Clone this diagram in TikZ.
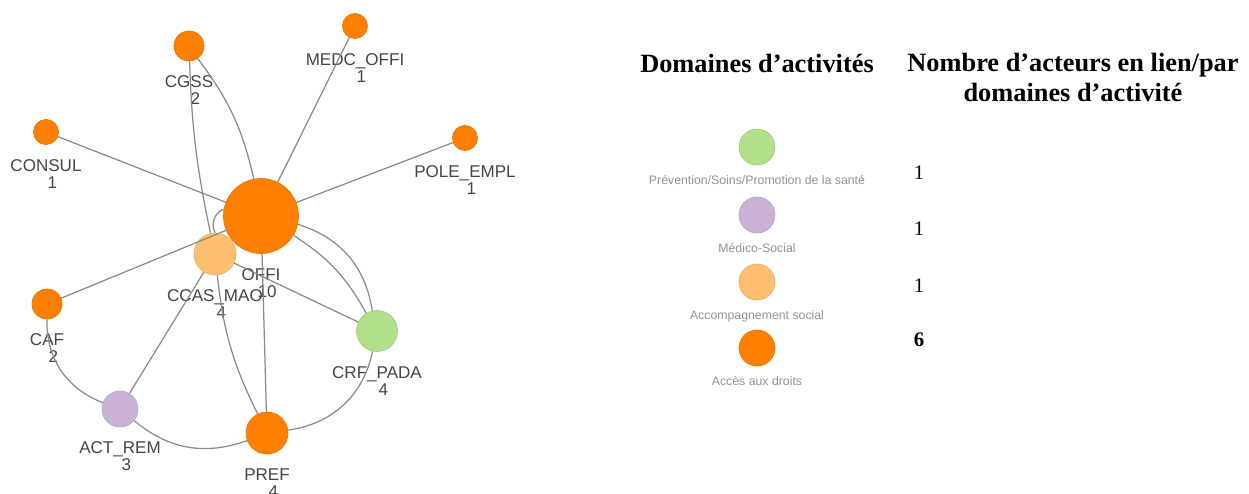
\documentclass[tikz,border=0pt]{standalone}
\usepackage{fontspec}
\setmainfont{Liberation Serif}
\newfontfamily\grapheFont{Liberation Sans}
\usetikzlibrary{positioning}

\definecolor{acces}{HTML}{FF7F00}
\definecolor{accomp}{HTML}{FDBF6F}
\definecolor{medico}{HTML}{CAB2D6}
\definecolor{prevention}{HTML}{B2DF8A}
\definecolor{trait}{HTML}{8A8A8A}
\definecolor{texte}{HTML}{454545}

\tikzset{
  acteur/.style={circle, inner sep=0pt, minimum size=#1, line width=0.4pt},
  lien/.style={draw=trait, line width=0.7pt},
  nomacteur/.style={font=\grapheFont\fontsize{9.7}{9.7}\selectfont, text=texte, align=center, inner sep=0pt},
  legende/.style={font=\grapheFont\fontsize{7}{8}\selectfont, text=gray!85, inner sep=0pt},
  titre/.style={font=\bfseries\fontsize{15}{17}\selectfont, align=center, inner sep=0pt},
  nombre/.style={font=\fontsize{11.8}{13}\selectfont, inner sep=0pt}
}

\begin{document}
\begin{tikzpicture}[x=0.02cm, y=-0.02cm]
\useasboundingbox (0,0) rectangle (1249,494);

% acteurs du reseau
\foreach \nm/\x/\y/\d/\col/\txt/\nb in {
  offi/261/216/1.5/acces/OFFI/10,
  cgss/189/46/0.6/acces/CGSS/2,
  medc/355/26/0.5/acces/MEDC\_OFFI/1,
  consul/46/132/0.5/acces/CONSUL/1,
  pole/465/138/0.5/acces/POLE\_EMPL/1,
  ccas/215/254/0.84/accomp/CCAS\_MAO/4,
  caf/47/304/0.6/acces/CAF/2,
  crf/377/331/0.82/prevention/CRF\_PADA/4,
  actrem/120/409/0.72/medico/ACT\_REM/3,
  pref/267/433/0.84/acces/PREF/4}{
  \node[acteur=\d cm, fill=\col, draw=\col!92!black] (\nm) at (\x,\y) {};
  \node[nomacteur, below=0.28cm of \nm] (\nm-nom) {\txt\\\hspace*{0.25cm}\nb};
}

% liens
\draw[lien] (offi) -- (consul);
\draw[lien] (offi) -- (medc);
\draw[lien] (offi) -- (pole);
\draw[lien] (offi) -- (caf);
\draw[lien] (offi) -- (pref);
\draw[lien] (ccas) -- (crf);
\draw[lien] (ccas) -- (actrem);
\draw[lien] (cgss) to[bend left=12] (offi);
\draw[lien] (cgss) to[bend right=5] (ccas);
\draw[lien] (offi) to[bend right=50] (ccas);
\draw[lien] (offi) to[bend left=14] (crf);
\draw[lien] (offi) to[bend left=32] (crf);
\draw[lien] (crf) to[bend left=35] (pref);
\draw[lien] (caf) to[bend right=35] (actrem);
\draw[lien] (actrem) to[bend right=30] (pref);
\draw[lien] (ccas) to[bend right=10] (pref);

% legende
\node[titre, anchor=base] (titre-dom) at (757,72) {Domaines d’activités};
\node[titre, anchor=north] (titre-nb) at (1073,53) {Nombre d’acteurs en lien/par\\domaines d’activité};

\foreach \col/\y/\yn/\txt/\nb in {
  prevention/147/173/{Prévention/Soins/Promotion de la santé}/1,
  medico/215/229/Médico-Social/1,
  accomp/282/286/Accompagnement social/1,
  acces/348/340/Accès aux droits/\textbf{6}}{
  \node[acteur=0.72cm, fill=\col, draw=\col!92!black] (dom-\col) at (757,\y) {};
  \node[legende, below=0.2cm of dom-\col] (dom-\col-nom) {\txt};
  \node[nombre] (nb-\col) at (919,\yn) {\nb};
}
\end{tikzpicture}
\end{document}
